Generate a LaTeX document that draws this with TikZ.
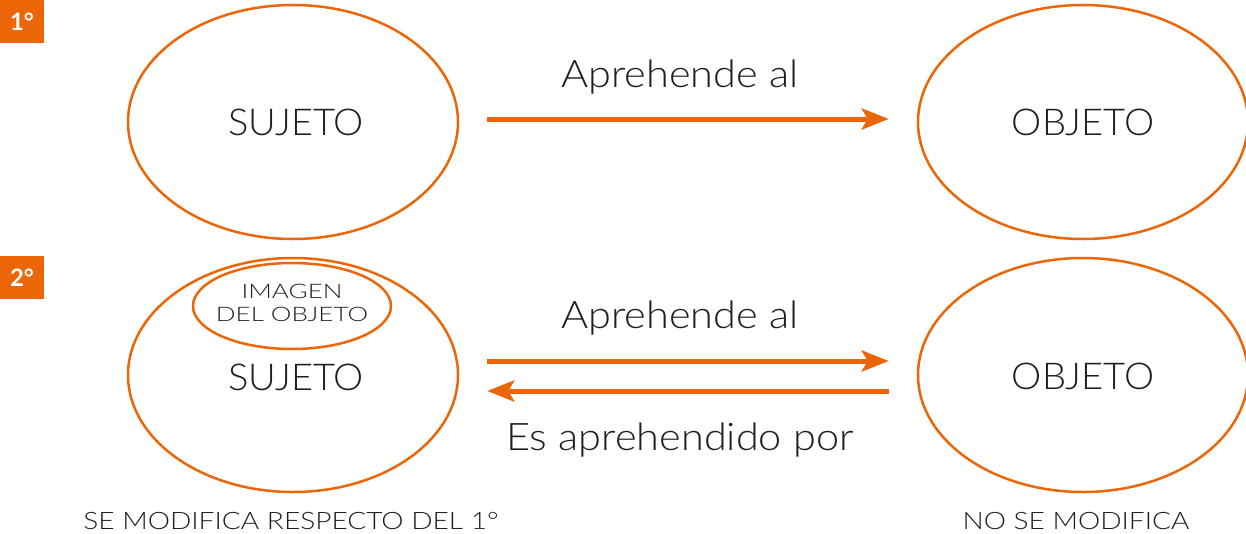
\documentclass[tikz,border=0pt]{standalone}
\usepackage{fontspec}
\setmainfont{Lato}[UprightFont={* Light}, BoldFont={* Bold}]
\newfontfamily\bigf{Lato}[UprightFont={* Light}, FakeStretch=1.09]
\newfontfamily\smallf{Lato}[UprightFont={* Light}, FakeStretch=1.17]
\newfontfamily\imgf{Lato}[UprightFont={* Light}, FakeStretch=1.3]
\newfontfamily\ovalf{Lato}[UprightFont={* Light}, FakeStretch=1.03]
\usetikzlibrary{shapes.geometric,arrows.meta}
\definecolor{org}{RGB}{236,102,8}
\definecolor{ink}{RGB}{30,30,30}
\begin{document}
\begin{tikzpicture}[x=1pt,y=-1pt,
  oval/.style={ellipse, draw=org, line width=2.5pt, minimum width=330pt, minimum height=234pt, inner sep=0pt},
  ovaltext/.style={text=ink, inner sep=0pt, font=\ovalf\fontsize{37}{37}\selectfont},
  inoval/.style={ellipse, draw=org, line width=2.5pt, minimum width=198pt, minimum height=86pt, inner sep=0pt},
  inovaltext/.style={text=ink, inner sep=0pt, align=center, font=\imgf\fontsize{20}{23.5}\selectfont},
  arr/.style={draw=org, line width=5pt, -{Stealth[length=27pt,width=21pt,inset=6pt]}, shorten <=28pt, shorten >=28pt},
  stepbox/.style={fill=org, minimum width=44pt, minimum height=43pt, inner sep=0pt, text=white, font=\bfseries\fontsize{24}{24}\selectfont},
  biglab/.style={anchor=base, text=ink, inner sep=0pt, font=\bigf\fontsize{38}{38}\selectfont},
  smalllab/.style={anchor=base, text=ink, inner sep=0pt, font=\smallf\fontsize{24}{24}\selectfont}]
\useasboundingbox (0,0) rectangle (1246,533);
\fill[white] (0,0) rectangle (1246,533);
% step 1
\node[stepbox] (n1) at (22,21.5) {1°};
\node[oval] (s1) at (293,122) {};
\node[ovaltext] (s1t) at (296,122) {SUJETO};
\node[oval] (o1) at (1083,122) {};
\node[ovaltext] (o1t) at (1083,122) {OBJETO};
\node[biglab] (t1) at (680,87) {Aprehende al};
\draw[arr] ([yshift=3pt]s1.east) -- ([yshift=3pt]o1.west);
% step 2
\node[stepbox] (n2) at (22,277.5) {2°};
\node[oval] (s2) at (293,375) {};
\node[ovaltext] (s2t) at (296,377) {SUJETO};
\node[inoval] (img) at (292,306) {};
\node[inovaltext] (imgt) at (292,303) {IMAGEN\\DEL OBJETO};
\node[oval] (o2) at (1083,375) {};
\node[ovaltext] (o2t) at (1083,376) {OBJETO};
\node[biglab] (t2) at (680,328) {Aprehende al};
\node[biglab] (t3) at (680,450) {Es aprehendido por};
\draw[arr] ([yshift=14pt]s2.east) -- ([yshift=14pt]o2.west);
\draw[arr] ([yshift=-16pt]o2.west) -- ([yshift=-16pt]s2.east);
\node[smalllab] (l1) at (291,529) {SE MODIFICA RESPECTO DEL 1°};
\node[smalllab] (l2) at (1076,529) {NO SE MODIFICA};
\end{tikzpicture}
\end{document}
